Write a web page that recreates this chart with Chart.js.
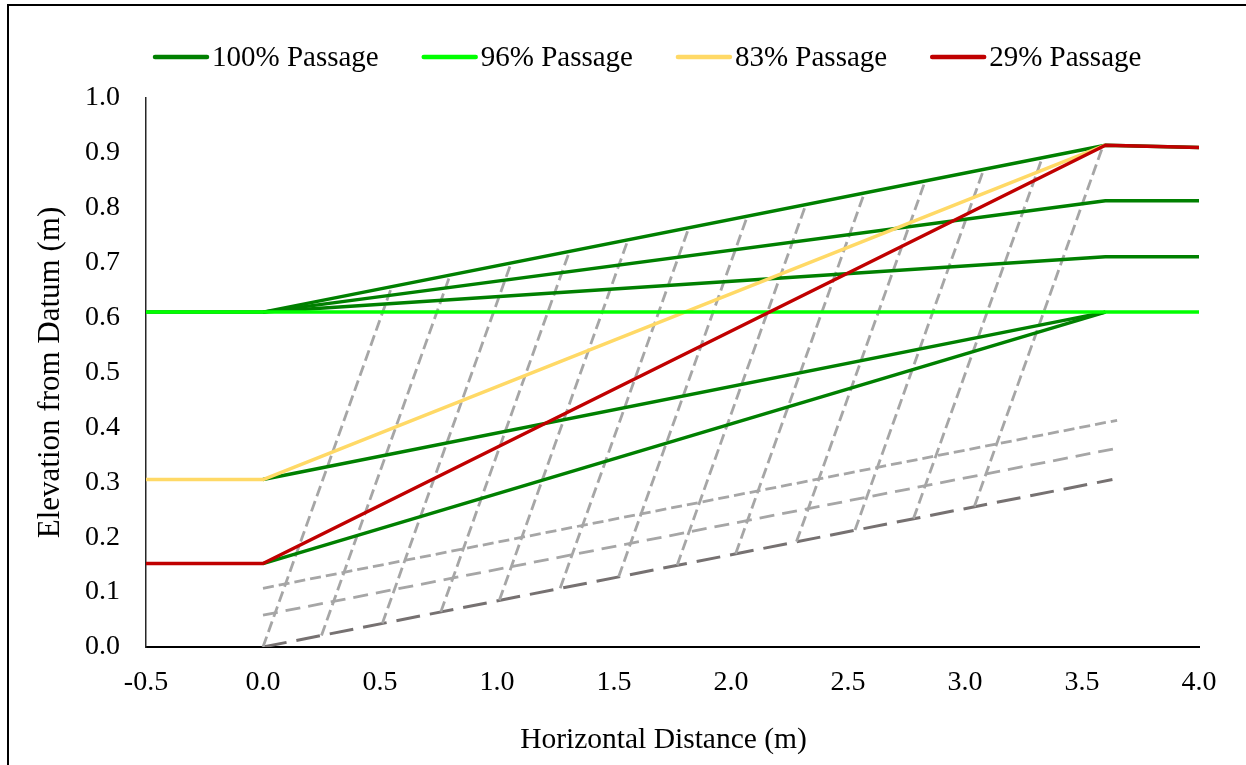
<!DOCTYPE html>
<html>
<head>
<meta charset="utf-8">
<script src="https://cdn.jsdelivr.net/npm/chart.js@4.4.0/dist/chart.umd.min.js"></script>
<style>
  body { margin: 0; background: #fff; }
  canvas { display: block; }
</style>
</head>
<body>
<canvas id="grafico" width="1246" height="765"></canvas>
<script>
// legend names and colours
const nombres = ["100% Passage", "96% Passage", "83% Passage", "29% Passage"];
const colores = ["#008000", "#00FF00", "#FFD966", "#C00000"];

// 100% passage: five profiles
const p100X = [[-0.5, 0, 3.6, 4.0], [0, 3.6, 4.0], [0, 3.6, 4.0], [0, 3.6], [0, 3.6]];
const p100Y = [[0.61, 0.61, 0.914, 0.91], [0.61, 0.813, 0.813], [0.61, 0.711, 0.711], [0.305, 0.61], [0.152, 0.61]];
const p96X = [-0.5, 4.0];
const p96Y = [0.61, 0.61];
const p83X = [-0.5, 0, 3.6];
const p83Y = [0.305, 0.305, 0.914];
const p29X = [-0.5, 0, 3.6, 4.0];
const p29Y = [0.152, 0.152, 0.914, 0.91];

// dashed flow lines (bottom to top)
const flujoX = [[0, 3.63], [0, 3.65], [0, 3.65]];
const flujoY = [[0, 0.305], [0.058, 0.362], [0.107, 0.413]];

// slanted dashed lines: lower end and upper end
const eqX0 = [0, 0.25, 0.51, 0.76, 1.01, 1.27, 1.52, 1.77, 2.02, 2.28, 2.53, 2.78, 3.04];
const eqY0 = [0, 0.021, 0.043, 0.064, 0.085, 0.107, 0.128, 0.149, 0.170, 0.192, 0.213, 0.234, 0.256];
const eqX1 = [0.55, 0.80, 1.06, 1.31, 1.56, 1.82, 2.07, 2.32, 2.57, 2.83, 3.08, 3.33, 3.59];
const eqY1 = [0.656, 0.678, 0.699, 0.721, 0.742, 0.764, 0.785, 0.806, 0.827, 0.849, 0.870, 0.891, 0.913];

const ticksX = [-0.5, 0, 0.5, 1.0, 1.5, 2.0, 2.5, 3.0, 3.5, 4.0];
const ticksY = [0, 0.1, 0.2, 0.3, 0.4, 0.5, 0.6, 0.7, 0.8, 0.9, 1.0];

const tituloX = "Horizontal Distance (m)";
const tituloY = "Elevation from Datum (m)";

const fuente = "'Liberation Serif', 'Times New Roman', serif";

function puntos(xs, ys) {
    return xs.map((x, i) => ({x: x, y: ys[i]}));
}

function linea(data, color, ancho, guion, orden) {
    return {
        data: data,
        borderColor: color,
        borderWidth: ancho,
        borderDash: guion,
        borderJoinStyle: 'round',
        pointRadius: 0,
        pointHoverRadius: 0,
        tension: 0,
        fill: false,
        order: orden
    };
}

let datasets = [];
for (let i = 0; i < eqX0.length; i++) {
    datasets.push(linea(puntos([eqX0[i], eqX1[i]], [eqY0[i], eqY1[i]]), "#A6A6A6", 2.8, [11, 5], 5));
}
datasets.push(linea(puntos(flujoX[0], flujoY[0]), "#767171", 3, [24, 10], 5));
datasets.push(linea(puntos(flujoX[1], flujoY[1]), "#A6A6A6", 2.8, [15, 8], 5));
datasets.push(linea(puntos(flujoX[2], flujoY[2]), "#A6A6A6", 2.8, [11, 5], 5));
for (let i = 0; i < p100X.length; i++) {
    datasets.push(linea(puntos(p100X[i], p100Y[i]), colores[0], 3.5, [], 4));
}
datasets.push(linea(puntos(p83X, p83Y), colores[2], 3.5, [], 3));
datasets.push(linea(puntos(p96X, p96Y), colores[1], 3.5, [], 2));
datasets.push(linea(puntos(p29X, p29Y), colores[3], 3.5, [], 1));

// white background and outer frame
const marco = {
    id: 'marco',
    beforeDraw(chart) {
        const ctx = chart.ctx;
        ctx.save();
        ctx.fillStyle = '#fff';
        ctx.fillRect(0, 0, chart.width, chart.height);
        ctx.strokeStyle = '#000';
        ctx.lineWidth = 2;
        ctx.strokeRect(8, 5, 1400, 900);
        ctx.restore();
    }
};

// legend drawn by hand, line sample right next to the text; x title too
const leyenda = {
    id: 'leyenda',
    afterDraw(chart) {
        const ctx = chart.ctx;
        ctx.save();
        ctx.font = "29px " + fuente;
        ctx.textBaseline = 'middle';
        ctx.fillStyle = '#000';
        let x = 153;
        const y = 57;
        for (let i = 0; i < nombres.length; i++) {
            ctx.strokeStyle = colores[i];
            ctx.lineWidth = 4.5;
            ctx.lineCap = 'round';
            ctx.beginPath();
            ctx.moveTo(x + 2, y);
            ctx.lineTo(x + 54, y);
            ctx.stroke();
            ctx.fillText(nombres[i], x + 59, y + 1);
            x += 59 + ctx.measureText(nombres[i]).width + 43;
        }
        ctx.font = "29.5px " + fuente;
        ctx.textAlign = 'center';
        ctx.fillText(tituloX, 663.5, 740);
        ctx.restore();
    }
};

const ctx = document.getElementById('grafico').getContext('2d');
const grafico = new Chart(ctx, {
    type: 'line',
    data: { datasets: datasets },
    options: {
        responsive: false,
        animation: false,
        devicePixelRatio: 1,
        layout: { padding: { left: 9, top: 98, right: 47, bottom: 0 } },
        plugins: {
            legend: { display: false },
            tooltip: { enabled: false }
        },
        scales: {
            x: {
                type: 'linear',
                min: -0.5,
                max: 4.0,
                afterBuildTicks: s => { s.ticks = ticksX.map(v => ({value: v})); },
                afterFit: s => { s.height = 118; },
                grid: { drawOnChartArea: false, drawTicks: false },
                border: { display: true, color: '#000', width: 2 },
                ticks: {
                    padding: 19,
                    color: '#000',
                    font: { family: fuente, size: 28 },
                    maxRotation: 0,
                    autoSkip: false,
                    callback: v => v.toFixed(1)
                },
                title: { display: false }
            },
            y: {
                min: 0,
                max: 1.0,
                afterBuildTicks: s => { s.ticks = ticksY.map(v => ({value: v})); },
                afterFit: s => { s.width = 137; },
                grid: { drawOnChartArea: false, drawTicks: false },
                border: { display: true, color: '#262626', width: 1.5 },
                ticks: {
                    padding: 26,
                    color: '#000',
                    font: { family: fuente, size: 28 },
                    autoSkip: false,
                    callback: v => v.toFixed(1)
                },
                title: {
                    display: true,
                    text: tituloY,
                    color: '#000',
                    font: { family: fuente, size: 31 },
                    padding: { top: 23, bottom: 0 }
                }
            }
        }
    },
    plugins: [marco, leyenda]
});
</script>
</body>
</html>
